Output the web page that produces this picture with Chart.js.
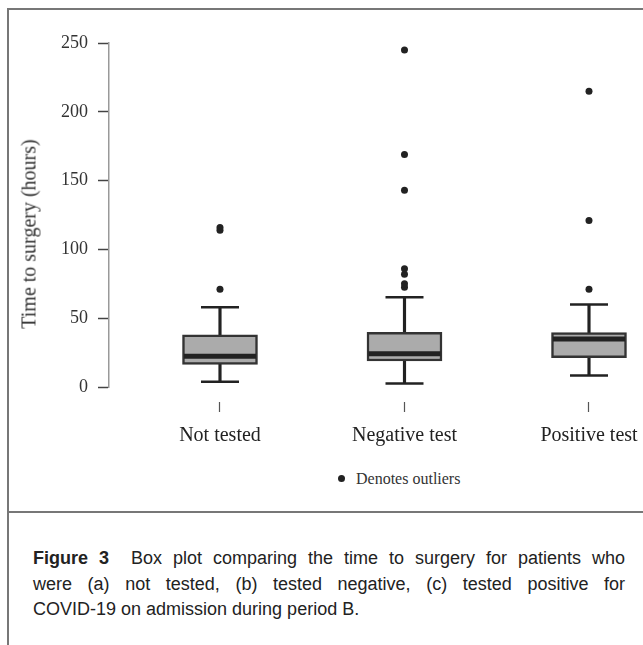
<!DOCTYPE html>
<html lang="en">
<head>
  <meta charset="UTF-8" />
  <title>Time to surgery by COVID-19 test status</title>
  <script src="https://cdn.jsdelivr.net/npm/chart.js"></script>
  <style>
    body {
      margin: 0;
      width: 643px;
      height: 645px;
      overflow: hidden;
      position: relative;
      background: #fff;
      color: #222;
      font-family: "Liberation Serif", serif;
    }
    /* figure frame */
    .frame-left { position: absolute; left: 7px; top: 8px; width: 2px; height: 637px; background: #777; }
    .frame-top  { position: absolute; left: 7px; top: 8px; width: 636px; height: 2px; background: #777; }
    .frame-sep  { position: absolute; left: 7px; top: 511px; width: 636px; height: 2px; background: #777; }

    #chartBox { position: absolute; left: 0; top: 0; width: 643px; height: 460px; }

    .y-title {
      position: absolute;
      left: 29px;
      top: 234px;
      transform: translate(-50%, -50%) rotate(-90deg);
      font-size: 20px;
      white-space: nowrap;
      color: #333;
    }
    .legend {
      position: absolute;
      left: 338px;
      top: 469px;
      font-size: 16px;
      line-height: 20px;
      color: #333;
      white-space: nowrap;
    }
    .legend .dot {
      display: inline-block;
      width: 7px;
      height: 7px;
      border-radius: 50%;
      background: #222;
      margin-right: 11px;
      vertical-align: 2px;
    }
    .caption {
      position: absolute;
      left: 33px;
      top: 546px;
      width: 592px;
      font-family: "Liberation Sans", Arial, sans-serif;
      font-size: 18px;
      line-height: 25.5px;
      color: #222;
    }
    .caption div { text-align: justify; text-align-last: justify; white-space: nowrap; }
    .caption div.last { text-align-last: left; }
  </style>
</head>
<body>
  <div class="frame-left"></div>
  <div class="frame-top"></div>
  <div class="frame-sep"></div>

  <div id="chartBox"><canvas id="boxChart"></canvas></div>
  <div class="y-title">Time to surgery (hours)</div>
  <div class="legend"><span class="dot"></span>Denotes outliers</div>

  <div class="caption">
    <div><b>Figure 3</b>&nbsp; Box plot comparing the time to surgery for patients who</div>
    <div>were (a) not tested, (b) tested negative, (c) tested positive for</div>
    <div class="last">COVID-19 on admission during period B.</div>
  </div>

  <script>
    // ---- data (hours) ----
    const categories  = ['Not tested', 'Negative test', 'Positive test'];
    const whiskerLow  = [3.9, 2.5, 8.3];
    const q1          = [16.5, 18.9, 21.3];
    const median      = [22.3, 24.2, 34.8];
    const q3          = [38, 39.7, 39.5];
    const whiskerHigh = [58, 65.3, 60];
    const outliers    = [
      [71, 114, 116],
      [72.5, 75, 82, 86, 143, 169, 245],
      [71, 121, 215]
    ];
    const yTicks = [0, 50, 100, 150, 200, 250];

    const catPos = categories.map((_, i) => i + 1);
    const serif = 'Liberation Serif';
    const ink = '#222';

    function points(values) {
      return values.map((v, i) => ({ x: catPos[i], y: v }));
    }
    function ranges(lo, hi) {
      return lo.map((v, i) => ({ x: catPos[i], y: [v, hi[i]] }));
    }
    const outlierPoints = outliers.flatMap((list, i) => list.map(v => ({ x: catPos[i], y: v })));

    new Chart(document.getElementById('boxChart'), {
      data: {
        datasets: [
          { type: 'bar', label: 'upper whisker', data: ranges(q3, whiskerHigh),
            backgroundColor: ink, barThickness: 2.5, grouped: false, order: 5 },
          { type: 'bar', label: 'lower whisker', data: ranges(whiskerLow, q1),
            backgroundColor: ink, barThickness: 2.5, grouped: false, order: 5 },
          { type: 'bar', label: 'box', data: ranges(q1, q3),
            backgroundColor: '#ababab', borderColor: '#333', borderWidth: 2.5,
            borderSkipped: false, barThickness: 75, grouped: false, order: 4 },
          { type: 'scatter', label: 'median', data: points(median),
            pointStyle: 'line', pointRadius: 36, pointBorderWidth: 5,
            pointBorderColor: ink, order: 1 },
          { type: 'scatter', label: 'caps', data: points(whiskerHigh).concat(points(whiskerLow)),
            pointStyle: 'line', pointRadius: 19, pointBorderWidth: 2.5,
            pointBorderColor: ink, order: 2 },
          { type: 'scatter', label: 'Denotes outliers', data: outlierPoints,
            pointRadius: 3.5, pointBackgroundColor: ink, pointBorderColor: ink,
            pointBorderWidth: 0, clip: false, order: 1 }
        ]
      },
      options: {
        responsive: true,
        maintainAspectRatio: false,
        animation: false,
        events: [],
        // the wide "line" points (medians, caps) must not shrink the plot area
        layout: { autoPadding: false, padding: { top: 43, right: 0, bottom: 0, left: 0 } },
        plugins: { legend: { display: false }, tooltip: { enabled: false } },
        scales: {
          x: {
            type: 'linear',
            offset: false,
            min: 0.3984,
            max: 3.2927,
            afterBuildTicks: s => { s.ticks = catPos.map(v => ({ value: v })); },
            afterFit: s => {
              s.height = 73;
              s.paddingLeft = 0;
              s.paddingRight = 0;
            },
            ticks: {
              callback: (v, i) => categories[i],
              autoSkip: false,
              maxRotation: 0,
              padding: 12,
              color: ink,
              font: { family: serif, size: 20 }
            },
            grid: {
              offset: false,
              drawOnChartArea: false,
              tickLength: 25,
              tickBorderDash: [0, 15, 10, 100],
              tickColor: '#555',
              tickWidth: 1.2
            },
            border: { display: false }
          },
          y: {
            min: 0,
            max: 250,
            afterBuildTicks: s => { s.ticks = yTicks.map(v => ({ value: v })); },
            afterFit: s => { s.width = 109; },
            ticks: {
              padding: 10,
              color: '#333',
              font: { family: serif, size: 18 }
            },
            grid: {
              drawOnChartArea: false,
              tickLength: 11,
              tickColor: '#444',
              tickWidth: 1.5
            },
            border: { display: true, color: '#999', width: 1.5 }
          }
        }
      }
    });
  </script>
</body>
</html>
